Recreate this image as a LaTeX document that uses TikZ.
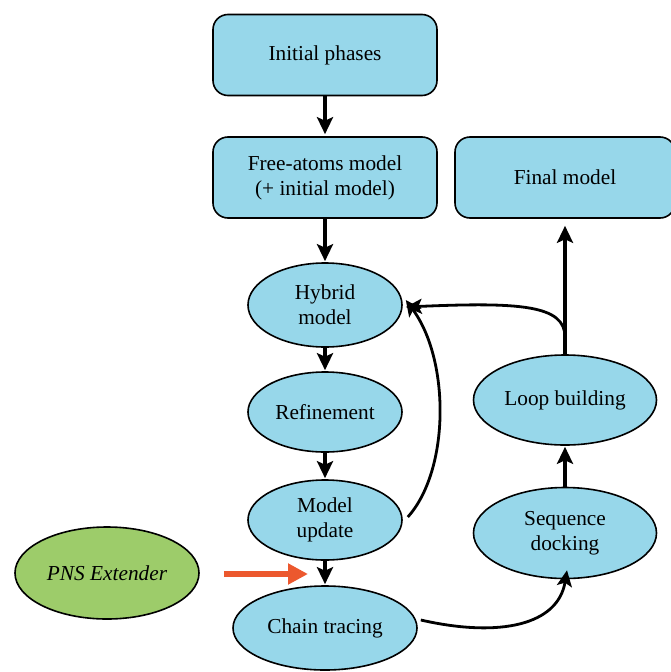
\documentclass[tikz,border=0pt]{standalone}
\usepackage{fontspec}
\setmainfont{Liberation Serif}
\usetikzlibrary{shapes.geometric,arrows.meta}
\definecolor{boxblue}{RGB}{151,215,234}
\definecolor{pnsgreen}{RGB}{157,204,106}
\definecolor{redarrow}{RGB}{236,88,46}
\tikzset{
  stepbox/.style={draw=black, line width=1.6pt, fill=boxblue, rounded corners=15pt,
    minimum width=224pt, minimum height=81pt, inner sep=0pt, align=center,
    font=\fontsize{21.3}{25}\selectfont},
  stepell/.style={draw=black, line width=1.6pt, fill=boxblue, ellipse, inner sep=0pt,
    align=center, font=\fontsize{21.3}{25}\selectfont},
  flow/.style={line width=3.6pt, -{Stealth[length=17pt,width=16pt,inset=3.5pt]}},
  flowc/.style={line width=2.8pt, -{Stealth[length=16pt,width=15pt,inset=3.5pt]}},
  redflow/.style={draw=redarrow, line width=6pt, -{Triangle[length=20pt,width=20pt]}, redarrow},
}
\begin{document}
\begin{tikzpicture}[x=1pt,y=-1pt]
\useasboundingbox (0,0) rectangle (671,672);
\node[stepbox] (init) at (325,55) {Initial phases};
\node[stepbox] (free) at (325,177.5) {Free-atoms model\\(+ initial model)};
\node[stepbox, minimum width=220pt] (final) at (565,177.5) {Final model};
\node[stepell, minimum width=154pt, minimum height=84pt] (hyb) at (325,305) {Hybrid\\model};
\node[stepell, minimum width=154pt, minimum height=80pt] (ref) at (325,412) {Refinement};
\node[stepell, minimum width=154pt, minimum height=80pt] (mu) at (325,520) {Model\\update};
\node[stepell, minimum width=184pt, minimum height=84pt] (ct) at (325,628) {Chain tracing};
\node[stepell, minimum width=183pt, minimum height=90pt] (loop) at (565,400) {Loop building};
\node[stepell, minimum width=183pt, minimum height=91pt] (seq) at (565,533) {Sequence\\docking};
\node[draw=black, line width=1.6pt, fill=pnsgreen, ellipse, inner sep=0pt,
  minimum width=184pt, minimum height=92pt, font=\fontsize{21.3}{25}\selectfont\itshape] (pns) at (107,573) {PNS Extender};
\coordinate (redtip) at (308,574);
\coordinate (br) at (565,337);

\draw[flow, shorten >=2pt] (init) -- (free);
\draw[flow, shorten >=1pt] (free) -- (hyb);
\draw[flow, shorten >=1pt] (hyb) -- (ref);
\draw[flow, shorten >=1pt] (ref) -- (mu);
\draw[flow, shorten >=1pt] (mu) -- (ct);
\draw[flow, shorten >=1pt] (seq) -- (loop);
\draw[flow, shorten >=7pt] (loop.north) -- (final.south -| loop.north);
\draw[flowc] (br) .. controls (565,305) and (520,302) .. ([xshift=3pt,yshift=-2pt]hyb.east);
\draw[flowc] ([xshift=5pt,yshift=3pt]mu.east) .. controls (450,470) and (450,360) .. ([xshift=3pt,yshift=5pt]hyb.east);
\draw[flowc] ([xshift=3pt,yshift=8pt]ct.east) .. controls (500,638) and (558,625) .. ([xshift=2pt,yshift=9pt]seq.south);
\draw[redflow, shorten <=24pt] (pns.east |- redtip) -- (redtip);
\end{tikzpicture}
\end{document}
